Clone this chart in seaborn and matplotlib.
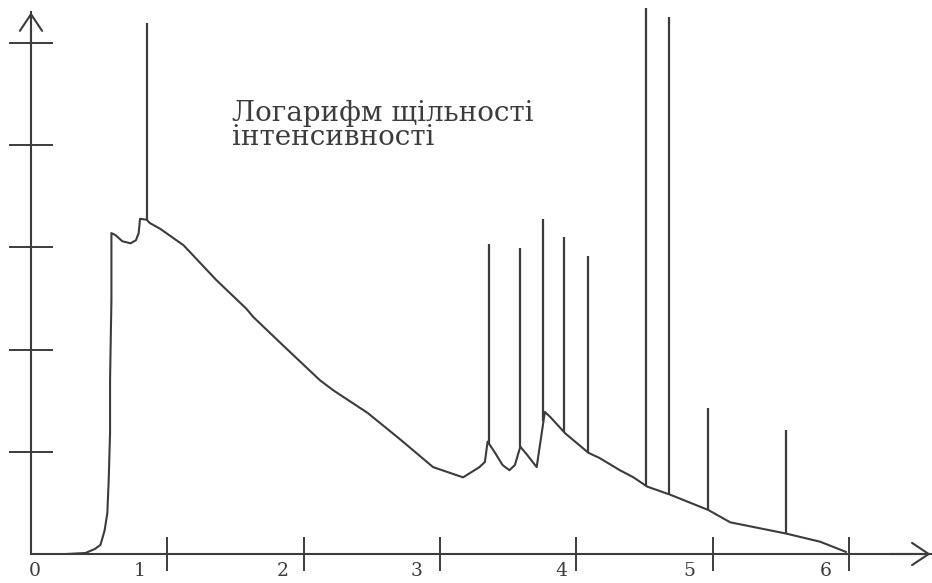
import numpy as np
import pandas as pd
import matplotlib
matplotlib.use("Agg")
import matplotlib.pyplot as plt
import seaborn as sns

# ---- data (x in axis units, y in axis units) ----
curve_x = [0.26, 0.40, 0.47, 0.51, 0.54, 0.56, 0.57, 0.58, 0.58, 0.59, 0.59,
           0.62, 0.67, 0.73, 0.77, 0.79, 0.80, 0.85, 0.87, 0.95, 1.12, 1.36,
           1.58, 1.63, 1.85, 2.12, 2.22, 2.47, 2.71, 2.95, 3.17, 3.29, 3.33,
           3.35, 3.40, 3.46, 3.51, 3.55, 3.59, 3.64, 3.71, 3.74, 3.77, 3.81,
           3.92, 4.09, 4.17, 4.32, 4.42, 4.52, 4.69, 4.97, 5.13, 5.54, 5.79,
           5.98]
curve_y = [0.00, 0.01, 0.05, 0.09, 0.23, 0.40, 0.72, 1.18, 1.70, 2.48, 3.14,
           3.12, 3.06, 3.04, 3.07, 3.14, 3.28, 3.27, 3.24, 3.18, 3.02, 2.68,
           2.40, 2.32, 2.04, 1.70, 1.60, 1.38, 1.12, 0.85, 0.75, 0.85, 0.90,
           1.10, 1.00, 0.87, 0.82, 0.87, 1.05, 0.97, 0.85, 1.12, 1.39, 1.34,
           1.18, 0.99, 0.94, 0.82, 0.75, 0.66, 0.58, 0.43, 0.31, 0.20, 0.12,
           0.02]
spike_x = [0.85, 3.36, 3.59, 3.76, 3.91, 4.09, 4.51, 4.68, 4.97, 5.54]
spike_top = [5.20, 3.03, 2.99, 3.28, 3.10, 2.92, 5.34, 5.25, 1.43, 1.21]
x_ticks = [1, 2, 3, 4, 5, 6]
y_ticks = [1, 2, 3, 4, 5]
x_tick_labels = ["0", "1", "2", "3", "4", "5", "6"]
label = "Логарифм щільності\nінтенсивності"

df = pd.DataFrame({"x": curve_x, "y": curve_y})

sns.set_style("white")
plt.rcParams["font.family"] = ["DejaVu Serif", "Liberation Serif"]

ink = "#3c3c3c"
fig = plt.figure(figsize=(9.32, 5.83), dpi=100)
ax = fig.add_axes([0, 0, 1, 1])
ax.set_facecolor("white")
fig.patch.set_facecolor("white")

sns.lineplot(data=df, x="x", y="y", sort=False, estimator=None, ax=ax,
             color=ink, linewidth=1.5)
spike_base = np.interp(spike_x, curve_x, curve_y)
ax.vlines(spike_x, spike_base, spike_top, color=ink, linewidth=1.6)
ax.set_xlabel("")
ax.set_ylabel("")

ax.set_xlim(-0.2274, 6.6104)
ax.set_ylim(-0.2838, 5.4207)

for s in ["top", "right"]:
    ax.spines[s].set_visible(False)
ax.spines["left"].set_position(("data", 0))
ax.spines["bottom"].set_position(("data", 0))
ax.spines["left"].set_bounds(0, 5.30)
ax.spines["bottom"].set_bounds(0, 6.60)
for s in ["left", "bottom"]:
    ax.spines[s].set_color(ink)
    ax.spines[s].set_linewidth(1.5)

# crossing tick marks (no labels on them)
ax.set_xticks(x_ticks)
ax.set_yticks(y_ticks)
ax.tick_params(axis="x", which="major", direction="inout", length=25,
               width=1.4, color=ink, bottom=True, labelbottom=False)
ax.tick_params(axis="y", which="major", direction="inout", length=32,
               width=1.4, color=ink, left=True, labelleft=False)
# tick labels, printed slightly left of the marks as in the original
ax.set_xticks([0.03, 0.80, 1.85, 2.83, 3.89, 4.83, 5.83], minor=True)
ax.set_xticklabels(x_tick_labels, minor=True)
ax.tick_params(axis="x", which="minor", length=0, pad=6, labelsize=13.5,
               labelcolor=ink, labelbottom=True)

# arrows at the ends of the axes
arrow = dict(arrowstyle="->,head_length=1.2,head_width=0.8", color=ink,
             lw=1.5, shrinkA=0, shrinkB=0)
ax.annotate("", xy=(0, 5.30), xytext=(0, 5.0), arrowprops=arrow)
ax.annotate("", xy=(6.60, 0), xytext=(6.3, 0), arrowprops=arrow)

fig.text(232 / 932, 1 - 100 / 583, label, ha="left", va="top",
         fontsize=20, color=ink, linespacing=0.85)

fig.savefig("out.png", dpi=100, facecolor="white")
